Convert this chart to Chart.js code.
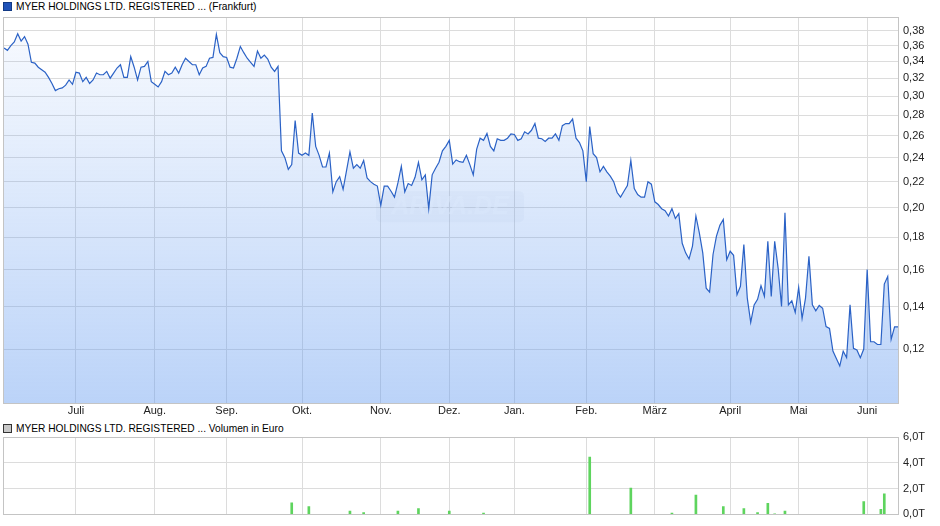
<!DOCTYPE html>
<html>
<head>
<meta charset="utf-8">
<script src="https://cdn.jsdelivr.net/npm/chart.js@4.4.1/dist/chart.umd.min.js"></script>
<style>
    body { margin: 0; width: 940px; height: 526px; background: #fff; position: relative; overflow: hidden;
           font-family: 'Liberation Sans', Arial, sans-serif; }
    .legend { position: absolute; left: 3px; font-size: 10.2px; line-height: 12px; color: #000; white-space: nowrap; }
    .legend .box { display: inline-block; width: 7px; height: 7px; border: 1px solid #333; margin-right: 4px; vertical-align: -0.5px; }
    #priceChart { position: absolute; left: 0; top: 0; }
    #volChart { position: absolute; left: 0; top: 425px; }
</style>
</head>
<body>
<div class="legend" style="top:1px"><span class="box" style="background:#1f52b8;border-color:#123a85"></span>MYER HOLDINGS LTD. REGISTERED ... (Frankfurt)</div>
<canvas id="priceChart" width="940" height="421"></canvas>
<div class="legend" style="top:423px"><span class="box" style="background:#c8c8c8"></span>MYER HOLDINGS LTD. REGISTERED ... Volumen in Euro</div>
<canvas id="volChart" width="940" height="101"></canvas>
<script>
// month labels and the trading-day index where each month starts
const monthLabels = ['Juli', 'Aug.', 'Sep.', 'Okt.', 'Nov.', 'Dez.', 'Jan.', 'Feb.', 'März', 'April', 'Mai', 'Juni'];
const monthStart = [21, 44, 65, 87, 110, 130, 149, 170, 190, 212, 232, 252];

// closing prices in EUR, one per trading day
const prices = [
    0.357, 0.354, 0.360, 0.365, 0.376, 0.366, 0.372, 0.362, 0.339, 0.338,
    0.333, 0.330, 0.327, 0.321, 0.314, 0.306, 0.308, 0.309, 0.312, 0.318,
    0.313, 0.327, 0.326, 0.316, 0.321, 0.314, 0.318, 0.326, 0.324, 0.324,
    0.328, 0.320, 0.326, 0.332, 0.336, 0.321, 0.321, 0.346, 0.333, 0.318,
    0.333, 0.334, 0.340, 0.316, 0.313, 0.310, 0.316, 0.328, 0.324, 0.326,
    0.333, 0.326, 0.336, 0.344, 0.340, 0.336, 0.336, 0.324, 0.332, 0.334,
    0.344, 0.345, 0.375, 0.351, 0.346, 0.345, 0.333, 0.332, 0.344, 0.359,
    0.351, 0.344, 0.339, 0.334, 0.353, 0.344, 0.348, 0.343, 0.333, 0.328,
    0.334,
    0.246, 0.240, 0.230, 0.234, 0.2745, 0.244, 0.242, 0.244, 0.242, 0.282,
    0.250, 0.242, 0.232, 0.232, 0.244, 0.212, 0.220, 0.224, 0.214, 0.229,
    0.245, 0.231, 0.234, 0.231, 0.2375, 0.223, 0.220, 0.218, 0.2165, 0.202,
    0.2165, 0.2165, 0.2125, 0.208, 0.219, 0.2325, 0.212, 0.2185, 0.217, 0.2235,
    0.236, 0.2215, 0.2255, 0.1995, 0.2255, 0.231, 0.236, 0.246, 0.250, 0.2555,
    0.2345, 0.238, 0.2365, 0.236, 0.242, 0.234, 0.2255, 0.2475, 0.2575, 0.2555,
    0.262, 0.250,
    0.246, 0.257, 0.2555, 0.2555, 0.2575, 0.2615, 0.261, 0.2555, 0.257, 0.2635,
    0.2615, 0.265, 0.2715, 0.2575, 0.257, 0.2545, 0.2575, 0.2575, 0.2615, 0.2555,
    0.2695, 0.2715, 0.2715, 0.276, 0.2575, 0.2535, 0.246, 0.220, 0.2685, 0.2435,
    0.240, 0.228, 0.2325, 0.228, 0.2245, 0.220, 0.2115, 0.208, 0.2125, 0.217,
    0.2375, 0.2145, 0.210, 0.208, 0.208, 0.220, 0.218, 0.2045, 0.2025, 0.1995,
    0.198, 0.1943, 0.1995, 0.1925, 0.196,
    0.176, 0.170, 0.1663, 0.1742, 0.1943, 0.1828, 0.170, 0.1496, 0.1475, 0.169,
    0.1806, 0.1878, 0.1919, 0.1659, 0.171, 0.1685, 0.1461, 0.1506, 0.1752, 0.1443,
    0.1322, 0.1408, 0.1437, 0.1509, 0.1452, 0.1773, 0.1452, 0.1773, 0.1609, 0.140,
    0.1966, 0.1408, 0.1429, 0.137, 0.150, 0.1341, 0.1443, 0.1679, 0.1408, 0.1378,
    0.1405, 0.1391, 0.1302, 0.1293, 0.1191, 0.116, 0.1129, 0.1191, 0.1163, 0.1408,
    0.1203, 0.1196, 0.1163, 0.120, 0.160, 0.1232, 0.1232, 0.122, 0.122, 0.1518,
    0.1561, 0.1243, 0.130, 0.130
];

// trading days with turnover, and turnover in thousand euro
const volumeDays = [84, 89, 101, 105, 115, 121, 130, 140, 171, 183, 195, 202, 210, 216, 220, 223, 225, 228, 251, 256, 257];
const volumeValues = [0.9, 0.6, 0.25, 0.15, 0.25, 0.45, 0.25, 0.1, 4.45, 2.05, 0.1, 1.5, 0.6, 0.45, 0.15, 0.85, 0.03, 0.25, 1.0, 0.4, 1.6];

const priceTicks = [0.12, 0.14, 0.16, 0.18, 0.20, 0.22, 0.24, 0.26, 0.28, 0.30, 0.32, 0.34, 0.36, 0.38];
const volumeTicks = [0, 2, 4, 6];

const FONT = { family: "'Liberation Sans', Arial, sans-serif", size: 11 };
const GRID = '#dcdcdc';
const lastIdx = prices.length - 1;

// frame around the plot area
const framePlugin = {
    id: 'frame',
    afterDraw(chart) {
        const a = chart.chartArea;
        const ctx = chart.ctx;
        ctx.save();
        ctx.strokeStyle = '#c4c4c4';
        ctx.lineWidth = 1;
        ctx.strokeRect(Math.round(a.left) - 0.5, Math.round(a.top) + 0.5, Math.round(a.right - a.left) + 1, Math.round(a.bottom - a.top));
        ctx.restore();
    }
};

// faint site watermark in the middle of the price panel
const watermarkPlugin = {
    id: 'watermark',
    beforeDatasetsDraw(chart) {
        const a = chart.chartArea;
        const ctx = chart.ctx;
        const cx = (a.left + a.right) / 2 - 1;
        const cy = a.top + (a.bottom - a.top) * 0.49;
        ctx.save();
        ctx.fillStyle = 'rgba(170,180,200,0.08)';
        ctx.beginPath();
        ctx.roundRect(cx - 74, cy - 15, 148, 31, 5);
        ctx.fill();
        ctx.font = "italic bold 25px 'Liberation Sans', Arial, sans-serif";
        ctx.fillStyle = 'rgba(255,255,255,0.5)';
        ctx.textAlign = 'center';
        ctx.textBaseline = 'middle';
        ctx.fillText('ARIVA.DE', cx, cy + 1);
        ctx.restore();
    }
};

function monthAxis(showLabels) {
    return {
        type: 'linear',
        min: 0,
        max: lastIdx,
        offset: false,
        afterBuildTicks: s => { s.ticks = monthStart.map(v => ({ value: v })); },
        afterFit: s => { s.height = showLabels ? 18 : 7; },
        grid: { color: GRID, drawTicks: false, offset: false },
        border: { display: false },
        ticks: {
            display: showLabels,
            autoSkip: false,
            maxRotation: 0,
            padding: 1,
            color: '#222',
            font: FONT,
            callback: (v, i) => monthLabels[i]
        }
    };
}

new Chart(document.getElementById('priceChart'), {
    type: 'line',
    data: {
        datasets: [{
            data: prices.map((p, i) => ({ x: i, y: p })),
            borderColor: '#2b62c6',
            borderWidth: 1.2,
            pointRadius: 0,
            tension: 0,
            fill: 'start',
            backgroundColor: (context) => {
                const a = context.chart.chartArea;
                if (!a) return 'rgba(100,155,240,0.25)';
                const g = context.chart.ctx.createLinearGradient(0, a.top, 0, a.bottom);
                g.addColorStop(0, 'rgba(100,155,240,0.04)');
                g.addColorStop(1, 'rgba(100,155,240,0.44)');
                return g;
            }
        }]
    },
    options: {
        responsive: false,
        animation: false,
        layout: { autoPadding: false, padding: { left: 4, top: 17, right: 0, bottom: 0 } },
        scales: {
            x: monthAxis(true),
            y: {
                type: 'logarithmic',
                position: 'right',
                min: 0.0987,
                max: 0.3994,
                afterBuildTicks: s => { s.ticks = priceTicks.map(v => ({ value: v })); },
                afterFit: s => { s.width = 42; },
                grid: { color: GRID, drawTicks: false },
                border: { display: false },
                ticks: {
                    padding: 5,
                    color: '#222',
                    font: FONT,
                    callback: v => v.toFixed(2).replace('.', ',')
                }
            }
        },
        plugins: { legend: { display: false }, tooltip: { enabled: false } }
    },
    plugins: [watermarkPlugin, framePlugin]
});

new Chart(document.getElementById('volChart'), {
    type: 'bar',
    data: {
        datasets: [{
            data: volumeDays.map((d, i) => ({ x: d, y: volumeValues[i] })),
            backgroundColor: '#5ed45e',
            barThickness: 2
        }]
    },
    options: {
        responsive: false,
        animation: false,
        layout: { autoPadding: false, padding: { left: 4, top: 12, right: 0, bottom: 0 } },
        scales: {
            x: monthAxis(false),
            y: {
                position: 'right',
                min: 0,
                max: 6,
                afterBuildTicks: s => { s.ticks = volumeTicks.map(v => ({ value: v })); },
                afterFit: s => { s.width = 42; },
                grid: { color: GRID, drawTicks: false },
                border: { display: false },
                ticks: {
                    padding: 5,
                    color: '#222',
                    font: FONT,
                    callback: v => v.toFixed(1).replace('.', ',') + 'T'
                }
            }
        },
        plugins: { legend: { display: false }, tooltip: { enabled: false } }
    },
    plugins: [framePlugin]
});
</script>
</body>
</html>
